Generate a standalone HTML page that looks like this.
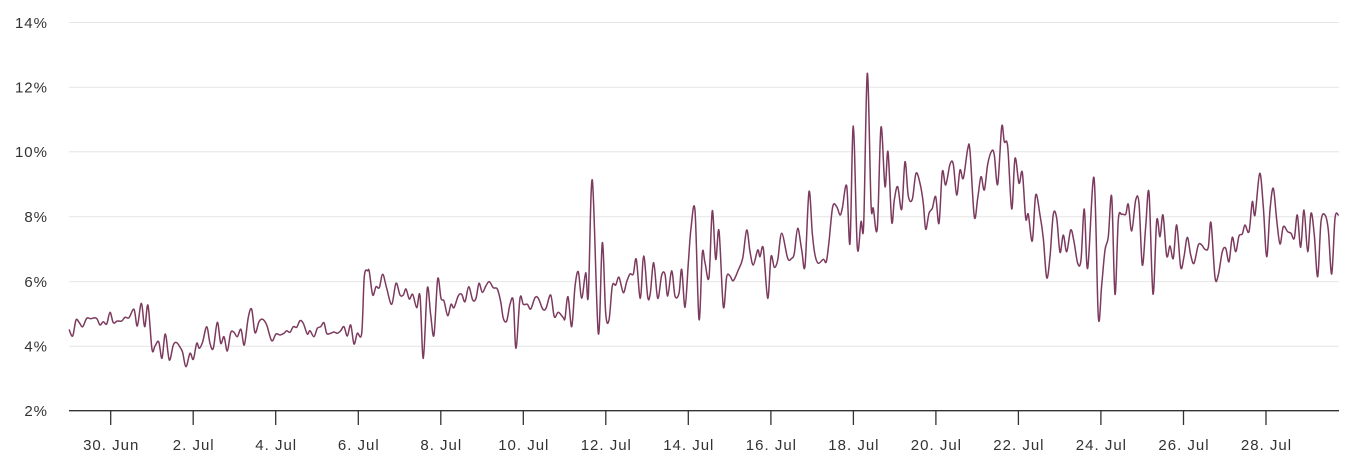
<!DOCTYPE html>
<html>
<head>
<meta charset="utf-8">
<style>
html,body{margin:0;padding:0;background:#fff;}
svg{display:block;}
text{font-family:"Liberation Sans",sans-serif;font-size:15px;fill:#333;letter-spacing:1px;}
</style>
</head>
<body>
<svg id="chart" width="1351" height="469" viewBox="0 0 1351 469" xmlns="http://www.w3.org/2000/svg">
<g stroke="#e6e6e6" stroke-width="1">
<line x1="69" y1="22.5" x2="1339" y2="22.5"/>
<line x1="69" y1="87.2" x2="1339" y2="87.2"/>
<line x1="69" y1="151.8" x2="1339" y2="151.8"/>
<line x1="69" y1="216.8" x2="1339" y2="216.8"/>
<line x1="69" y1="281.6" x2="1339" y2="281.6"/>
<line x1="69" y1="346.3" x2="1339" y2="346.3"/>
</g>
<g text-anchor="end">
<text x="48" y="28">14%</text>
<text x="48" y="92.5">12%</text>
<text x="48" y="157">10%</text>
<text x="48" y="222">8%</text>
<text x="48" y="287">6%</text>
<text x="48" y="351.5">4%</text>
<text x="48" y="416">2%</text>
</g>
<line x1="69" y1="410.7" x2="1339" y2="410.7" stroke="#333" stroke-width="1.3"/>
<g stroke="#333" stroke-width="1.3">
<line x1="110.7" y1="410" x2="110.7" y2="425"/>
<line x1="193.2" y1="410" x2="193.2" y2="425"/>
<line x1="275.7" y1="410" x2="275.7" y2="425"/>
<line x1="358.3" y1="410" x2="358.3" y2="425"/>
<line x1="440.8" y1="410" x2="440.8" y2="425"/>
<line x1="523.3" y1="410" x2="523.3" y2="425"/>
<line x1="605.8" y1="410" x2="605.8" y2="425"/>
<line x1="688.3" y1="410" x2="688.3" y2="425"/>
<line x1="770.9" y1="410" x2="770.9" y2="425"/>
<line x1="853.4" y1="410" x2="853.4" y2="425"/>
<line x1="935.9" y1="410" x2="935.9" y2="425"/>
<line x1="1018.4" y1="410" x2="1018.4" y2="425"/>
<line x1="1100.9" y1="410" x2="1100.9" y2="425"/>
<line x1="1183.5" y1="410" x2="1183.5" y2="425"/>
<line x1="1266" y1="410" x2="1266" y2="425"/>
</g>
<g text-anchor="middle">
<text x="111.2" y="450">30. Jun</text>
<text x="193.7" y="450">2. Jul</text>
<text x="276.2" y="450">4. Jul</text>
<text x="358.8" y="450">6. Jul</text>
<text x="441.3" y="450">8. Jul</text>
<text x="523.8" y="450">10. Jul</text>
<text x="606.3" y="450">12. Jul</text>
<text x="688.8" y="450">14. Jul</text>
<text x="771.4" y="450">16. Jul</text>
<text x="853.9" y="450">18. Jul</text>
<text x="936.4" y="450">20. Jul</text>
<text x="1018.9" y="450">22. Jul</text>
<text x="1101.4" y="450">24. Jul</text>
<text x="1184" y="450">26. Jul</text>
<text x="1266.5" y="450">28. Jul</text>
</g>
<polyline id="series" fill="none" stroke="#7c3a5e" stroke-width="1.5" stroke-linejoin="round" stroke-linecap="round" points="69.3,330 72.7,336 76,320 79.3,322.7 82.7,326.7 86.7,318.3 90.7,318.7 95,317.7 97.3,319.3 100,325 103.3,321.7 106.7,324 110,312.3 113.3,322.7 117.3,321 121.7,321 125,317.3 129,317.7 134,309.3 137.3,326 141.3,303.3 144.7,326.7 148,305.3 152,349.3 155,346 158.7,341.7 162,358.3 165.3,334 169.3,360 173.3,345 176.7,342.7 180.7,348.3 182.7,352.7 186,366.7 190,353.3 193.3,359.3 196.7,343.3 199.3,348.3 202.7,341.7 206.7,326.7 210,343.3 213.3,348.3 217.3,322.3 220.7,343.3 224,336.7 227.3,351 230.7,332.7 234,332.3 237.3,336.7 241,329.3 244.3,345 248.3,317.3 251.7,309.3 255,332.7 259,321.7 262.7,319.3 266.7,325 271.7,340.7 276,334 280,335 284,333.3 286.7,330.7 290,332.3 293.3,326.7 296.7,327.3 300,320.7 303.3,323.3 307.3,334 310,330.7 314,336.7 317.3,328.3 320.7,326.7 324,322.7 326.7,333.3 330.7,333.3 334,332 337.3,333.3 340.7,330.7 344,326.7 347.3,336 350.7,325 354,344 357.3,333.3 361.7,333.3 364.3,276.7 367.7,270.7 369.3,271.7 372.7,295 376,286.7 379.3,287.7 382.7,274.3 386.7,288.3 391.7,304.3 396,283.3 400,295 403.3,295 406,289 409.3,299 412.7,294.3 416.7,307.7 420,295.7 423.3,358.3 427.3,288.3 430.7,315 434,335 437.7,279 441,298.3 444,301 447.7,315.7 451,304.3 454,307.7 458.3,295.7 461.7,294.3 465,301.7 468.7,286.7 472.7,300 476,298.3 479,283.3 482.3,292.3 486,285.7 489.3,281.7 493.3,287.7 497.3,289 500.7,301.7 503.3,318.3 506.7,321 510,304.3 513.3,301 516,348.3 520,298.3 523.3,304.3 527.3,304.3 530.7,309 535,297.7 538.3,298.3 542.7,309 546,308.3 550.7,295 554.3,316.7 558.3,312.3 563.3,317.7 565,318.3 568,296.7 571.7,326.7 575,286.7 578.3,271.7 581.7,298.3 585.7,272.7 588.3,296 592.3,180 598.3,333.3 602.3,242.7 605.7,313.3 609,320 612.3,286 615.7,285 619,277.3 623.3,292.7 626.7,281.7 630,274 633.3,274 636.3,259.3 640.3,298.3 643.7,256 647.7,296.7 650.3,293.3 653.7,262.7 657.7,298.3 661.7,275 665,274.3 667.7,296 671.7,270.7 675,296 679,293.3 681.7,269.3 685,307.3 688.3,263.3 691,228.3 695,210.7 699,319.3 702.3,253.3 705,262.7 709,277.3 712.3,210.7 715.7,259.3 719,230.7 723.3,306.7 726.7,276.7 730,276 733.3,280.7 738.3,270 742.7,258.3 746.7,230 750,251.7 753.3,265 757.7,250 760,256.7 763.3,248.3 767.7,298.3 771,256.7 774.3,267.3 777.7,260 781.7,233.3 787.7,258.3 791.7,258.3 794.3,253.3 797.7,228.3 801.7,250 805,266 809,191.7 812.3,233.3 815,255 818.3,263.3 823.3,259.3 826.3,261.7 829,241.7 832.7,206.7 836.7,206.7 840,215 842.3,208.3 846.7,186 850,243.3 853.3,126 857.3,247.3 861,221.7 863.7,224 867.3,73.3 871,203.3 873.3,208.3 877.3,228.3 881,127.3 885,186.7 888,151.7 891.7,221.7 894.3,200 897.7,186.7 901.7,209.3 905,161.7 908.3,196 912.3,199.3 916,173.3 920,183.3 923.3,203.3 925.7,229.3 929,213.3 932.3,208.3 935.7,196.7 939,223.3 942.3,171.7 945.7,185 950,164.3 953.3,164.3 956.7,195 960,170 963.3,178.3 967.7,149 970,151 974.3,216.7 977.7,198.3 981,176.7 984.3,190 987.7,164.3 991.7,151 994.3,155 997.7,184.3 1001.7,126.7 1004.3,141.7 1007.7,146.7 1011.7,209 1015,158.3 1019,183.3 1022.3,172.3 1025.7,218.3 1028.3,214.3 1032.3,241 1035.7,195 1040,215 1043.3,238.3 1046.7,277.7 1050,256.7 1053.3,214.3 1056.7,218.3 1060,252.3 1063.3,235 1066.7,251.7 1070.7,230 1074,241.7 1077.7,263.3 1081,260 1084.3,209 1087.7,268.3 1094,177.7 1098.3,316.7 1101.7,285 1105,250 1108.3,236.7 1111.7,196.7 1115,294.3 1118.3,220 1121.7,214.3 1125.7,214.3 1128.3,204.3 1131.7,231 1135.7,200 1139,203.3 1142.3,265 1145.7,226.7 1149,192.7 1153,294 1156.7,220.7 1160,236.7 1163,215 1166.7,256 1170,246 1173.3,258.3 1176.7,225 1180.7,267.3 1184,256.7 1187.3,237.3 1190.7,255 1194,263.3 1198.3,245 1201.7,245 1205,249.3 1208.3,247.3 1211,222.7 1215,277.3 1218.3,275 1222.3,251.7 1225.7,248.3 1229,261.7 1232.3,237.3 1235.7,251.7 1239,236 1242.3,234 1245,225 1249,231.7 1252.3,201.7 1255,215 1259.7,173.3 1263.3,206.7 1266.7,256.7 1270,210 1273.3,188.3 1276.7,220 1280,244 1283.3,226.7 1287.7,231.7 1291,233.3 1294.3,238.3 1297.3,215 1300.7,247.3 1304,210 1307.7,251.7 1311,213.3 1314.3,235 1317.7,276.7 1321,221.7 1325,215 1328.3,230 1331.7,274 1335,218.3 1338.3,215"/>
</svg>
<script>
(function(){
  try{
    var pl=document.getElementById('series');
    var raw=pl.getAttribute('points').trim().split(/\s+/).map(function(s){var a=s.split(',');return [parseFloat(a[0]),parseFloat(a[1])];});
    var t=0.5/3*2; // tension factor
    var d='M'+raw[0][0]+','+raw[0][1];
    for(var i=0;i<raw.length-1;i++){
      var p0=raw[i>0?i-1:i],p1=raw[i],p2=raw[i+1],p3=raw[i+2<raw.length?i+2:i+1];
      var c1x=p1[0]+(p2[0]-p0[0])/6,c1y=p1[1]+(p2[1]-p0[1])/6;
      var c2x=p2[0]-(p3[0]-p1[0])/6,c2y=p2[1]-(p3[1]-p1[1])/6;
      d+='C'+c1x.toFixed(2)+','+c1y.toFixed(2)+' '+c2x.toFixed(2)+','+c2y.toFixed(2)+' '+p2[0]+','+p2[1];
    }
    var path=document.createElementNS('http://www.w3.org/2000/svg','path');
    path.setAttribute('d',d);
    path.setAttribute('fill','none');
    path.setAttribute('stroke','#7c3a5e');
    path.setAttribute('stroke-width','1.5');
    path.setAttribute('stroke-linejoin','round');
    path.setAttribute('stroke-linecap','round');
    pl.parentNode.replaceChild(path,pl);
  }catch(e){}
})();
</script>
</body>
</html>
